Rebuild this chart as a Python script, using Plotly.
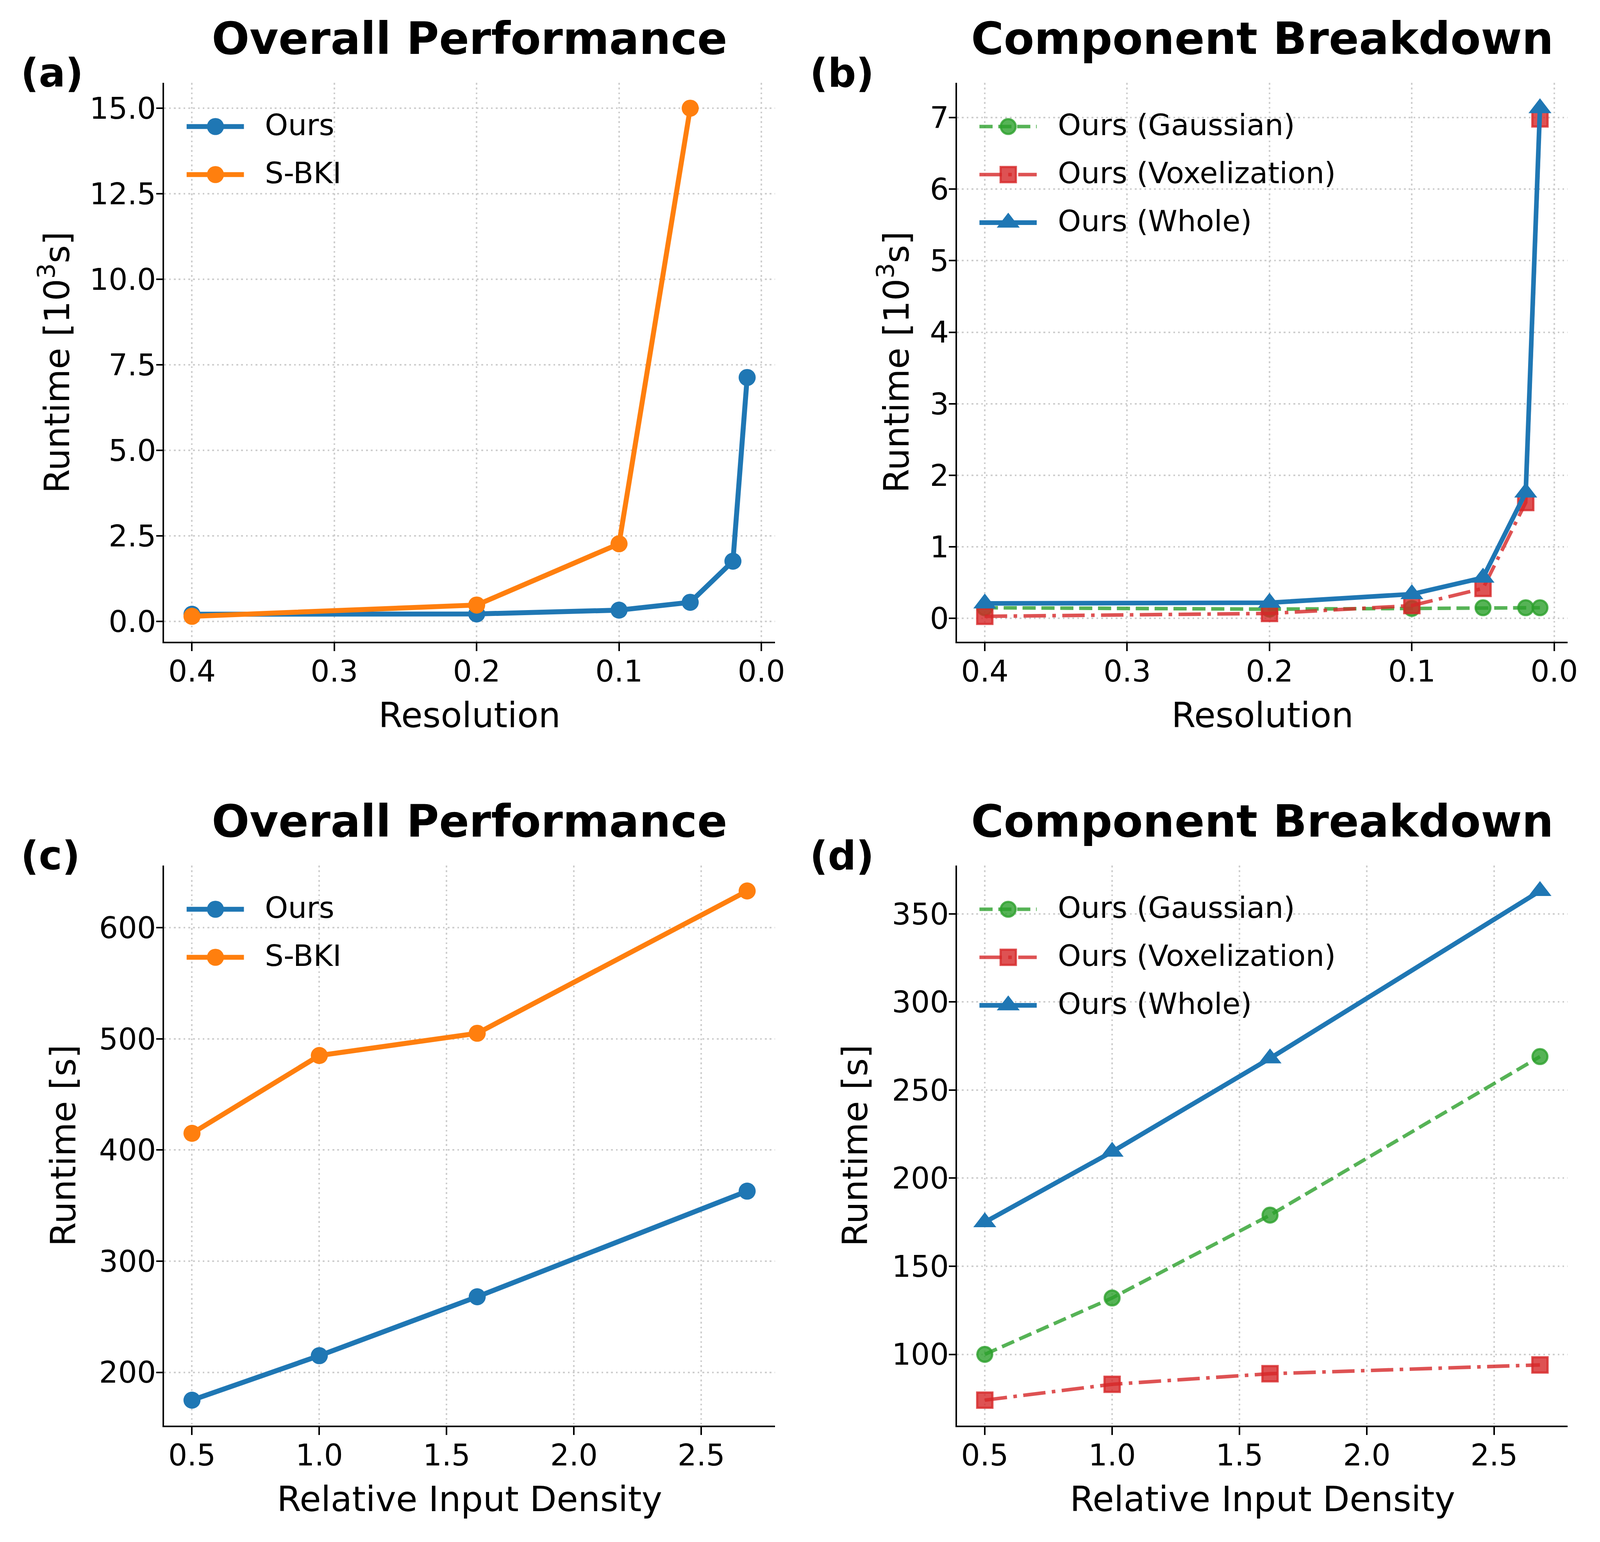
import plotly.graph_objects as go

# ---------------- data ----------------
resolution = [0.4, 0.2, 0.1, 0.05, 0.02, 0.01]
resolution_sbki = [0.4, 0.2, 0.1, 0.05]
a_ours = [0.21, 0.22, 0.33, 0.56, 1.76, 7.13]
a_sbki = [0.15, 0.48, 2.27, 15.0]
b_gauss = [0.15, 0.13, 0.14, 0.15, 0.15, 0.15]
b_vox = [0.03, 0.07, 0.18, 0.42, 1.62, 6.98]
b_whole = [0.21, 0.22, 0.34, 0.57, 1.76, 7.13]
density = [0.5, 1.0, 1.62, 2.68]
c_ours = [175, 215, 268, 363]
c_sbki = [415, 485, 505, 633]
d_gauss = [100, 132, 179, 269]
d_vox = [74, 83, 89, 94]
d_whole = [175, 215, 268, 363]

res_ticks = [0.0, 0.1, 0.2, 0.3, 0.4]
dens_ticks = [0.5, 1.0, 1.5, 2.0, 2.5]
a_yticks = [0.0, 2.5, 5.0, 7.5, 10.0, 12.5, 15.0]
b_yticks = [0, 1, 2, 3, 4, 5, 6, 7]
c_yticks = [200, 300, 400, 500, 600]
d_yticks = [100, 150, 200, 250, 300, 350]

titles = ["Overall Performance", "Component Breakdown", "Overall Performance", "Component Breakdown"]
panel_labels = ["(a)", "(b)", "(c)", "(d)"]
xlabels = ["Resolution", "Resolution", "Relative Input Density", "Relative Input Density"]
ylabels = ["Runtime [10<sup>3</sup>s]", "Runtime [10<sup>3</sup>s]", "Runtime [s]", "Runtime [s]"]
names_overall = ["Ours", "S-BKI"]
names_comp = ["Ours (Gaussian)", "Ours (Voxelization)", "Ours (Whole)"]

# ---------------- geometry (reference-image pixels) ----------------
W, H = 4967, 3948
VW, VH = 4115, 3948          # expected browser viewport (CSS px)
SX, SY = VW / W, VH / H      # CSS px per reference px
FS = (SX * SY) ** 0.5        # size scale for fonts / strokes / markers
OFF = 8                      # body margin (CSS px)
FONT = "DejaVu Sans"


def sz(v):
    return v * FS


def fx(p):
    return (p * SX - OFF) / (VW - 2 * OFF)


def fy(p):
    return 1 - (p * SY - OFF) / (VH - 2 * OFF)


boxes = [(513, 2421, 212, 1643), (2990, 4898, 212, 1643),
         (513, 2421, 2216, 3650), (2990, 4898, 2216, 3650)]
ylabel_x = [170, 2792, 198, 2672]
label_x = [62, 2527, 62, 2527]

BLUE = "#1f77b4"
ORANGE = "#ff7f0e"
GREEN = "rgba(44,160,44,0.8)"
RED = "rgba(214,39,40,0.8)"


def dash(*vals):
    return ",".join(f"{sz(v):.1f}px" for v in vals)


st_ours = dict(line=dict(color=BLUE, width=sz(14)), marker=dict(symbol="circle", size=sz(48), color=BLUE))
st_sbki = dict(line=dict(color=ORANGE, width=sz(14)), marker=dict(symbol="circle", size=sz(48), color=ORANGE))
st_gauss = dict(line=dict(color=GREEN, width=sz(10), dash=dash(37, 16)),
                marker=dict(symbol="circle", size=sz(42), color=GREEN, line=dict(color=GREEN, width=sz(6))))
st_vox = dict(line=dict(color=RED, width=sz(10), dash=dash(63, 18, 10, 18)),
              marker=dict(symbol="square", size=sz(43), color=RED, line=dict(color=RED, width=sz(6))))
st_whole = dict(line=dict(color=BLUE, width=sz(13)), marker=dict(symbol="triangle-up", size=sz(56), color=BLUE))


def padded(vals, rev=False):
    lo, hi = min(vals), max(vals)
    m = 0.05 * (hi - lo)
    return [hi + m, lo - m] if rev else [lo - m, hi + m]


panels = [
    dict(series=[(resolution, a_ours, names_overall[0], st_ours),
                 (resolution_sbki, a_sbki, names_overall[1], st_sbki)],
         xr=padded(resolution, True), yr=padded(a_ours + a_sbki),
         xt=res_ticks, xf="{:.1f}", yt=a_yticks, yf="{:.1f}"),
    dict(series=[(resolution, b_gauss, names_comp[0], st_gauss),
                 (resolution, b_vox, names_comp[1], st_vox),
                 (resolution, b_whole, names_comp[2], st_whole)],
         xr=padded(resolution, True), yr=padded(b_gauss + b_vox + b_whole),
         xt=res_ticks, xf="{:.1f}", yt=b_yticks, yf="{:d}"),
    dict(series=[(density, c_ours, names_overall[0], st_ours),
                 (density, c_sbki, names_overall[1], st_sbki)],
         xr=padded(density), yr=padded(c_ours + c_sbki),
         xt=dens_ticks, xf="{:.1f}", yt=c_yticks, yf="{:d}"),
    dict(series=[(density, d_gauss, names_comp[0], st_gauss),
                 (density, d_vox, names_comp[1], st_vox),
                 (density, d_whole, names_comp[2], st_whole)],
         xr=padded(density), yr=padded(d_gauss + d_vox + d_whole),
         xt=dens_ticks, xf="{:.1f}", yt=d_yticks, yf="{:d}"),
]

fig = go.Figure()
layout = dict(autosize=True,
              margin=dict(l=0, r=0, t=0, b=0, pad=0),
              paper_bgcolor="white", plot_bgcolor="rgba(0,0,0,0)",
              showlegend=False, font=dict(family=FONT, color="black"))
annotations = []

axis_common = dict(showline=True, linecolor="black", linewidth=sz(4.5), mirror=False,
                   ticks="outside", tickwidth=sz(4.5), tickcolor="black",
                   tickfont=dict(family=FONT, size=sz(84), color="black"),
                   showgrid=True, gridcolor="rgb(206,206,206)", gridwidth=sz(4.5),
                   griddash=dash(5, 8.5), zeroline=False, tickmode="array")

for i, p in enumerate(panels):
    n = i + 1
    xa = "x" if n == 1 else f"x{n}"
    ya = "y" if n == 1 else f"y{n}"
    l, r, t, b = boxes[i]
    layout["xaxis" if n == 1 else f"xaxis{n}"] = dict(
        axis_common, domain=[fx(l), fx(r)], range=p["xr"], anchor=ya,
        ticklen=20 * SY,
        tickvals=p["xt"], ticktext=[p["xf"].format(v) for v in p["xt"]],
        ticklabelstandoff=-14)
    layout["yaxis" if n == 1 else f"yaxis{n}"] = dict(
        axis_common, domain=[fy(b), fy(t)], range=p["yr"], anchor=xa,
        ticklen=20 * SX,
        tickvals=p["yt"], ticktext=[p["yf"].format(v) for v in p["yt"]],
        ticklabelstandoff=-15)
    for xs, ys, name, st in p["series"]:
        fig.add_trace(go.Scatter(x=xs, y=ys, name=name, mode="lines+markers",
                                 line=st["line"], marker=st["marker"],
                                 xaxis=xa, yaxis=ya, cliponaxis=False))

# overlay axis in reference-image pixel coordinates (legend samples & texts)
layout["xaxis5"] = dict(domain=[0, 1], range=[OFF / SX, W - OFF / SX], visible=False, anchor="y5")
layout["yaxis5"] = dict(domain=[0, 1], range=[H - OFF / SY, OFF / SY], visible=False, anchor="x5")

for i, p in enumerate(panels):
    l, r, t, b = boxes[i]
    cx = (l + r) / 2
    for k, (xs, ys, name, st) in enumerate(p["series"]):
        yrow = t + 112 + 123 * k
        fig.add_trace(go.Scatter(x=[l + 70, l + 249], y=[yrow, yrow], mode="lines",
                                 line=st["line"], xaxis="x5", yaxis="y5", hoverinfo="skip"))
        fig.add_trace(go.Scatter(x=[l + 160], y=[yrow], mode="markers",
                                 marker=st["marker"], xaxis="x5", yaxis="y5", hoverinfo="skip"))
        annotations.append(dict(x=l + 312, y=yrow - 4.5, xref="x5", yref="y5", text=name,
                                showarrow=False, xanchor="left", yanchor="middle",
                                font=dict(family=FONT, size=sz(83), color="black")))
    annotations.append(dict(x=cx, y=t - 114, xref="x5", yref="y5", text=f"<b>{titles[i]}</b>",
                            showarrow=False, xanchor="center", yanchor="middle",
                            font=dict(family=FONT, size=sz(125), color="black")))
    annotations.append(dict(x=label_x[i], y=t - 25, xref="x5", yref="y5", text=f"<b>{panel_labels[i]}</b>",
                            showarrow=False, xanchor="left", yanchor="middle",
                            font=dict(family=FONT, size=sz(111), color="black")))
    annotations.append(dict(x=cx, y=b + 188, xref="x5", yref="y5", text=xlabels[i],
                            showarrow=False, xanchor="center", yanchor="middle",
                            font=dict(family=FONT, size=sz(98), color="black")))
    annotations.append(dict(x=ylabel_x[i], y=(t + b) / 2, xref="x5", yref="y5", text=ylabels[i],
                            showarrow=False, xanchor="center", yanchor="middle", textangle=-90,
                            font=dict(family=FONT, size=sz(98), color="black")))

layout["annotations"] = annotations
fig.update_layout(**layout)
fig.write_html("out.html")
